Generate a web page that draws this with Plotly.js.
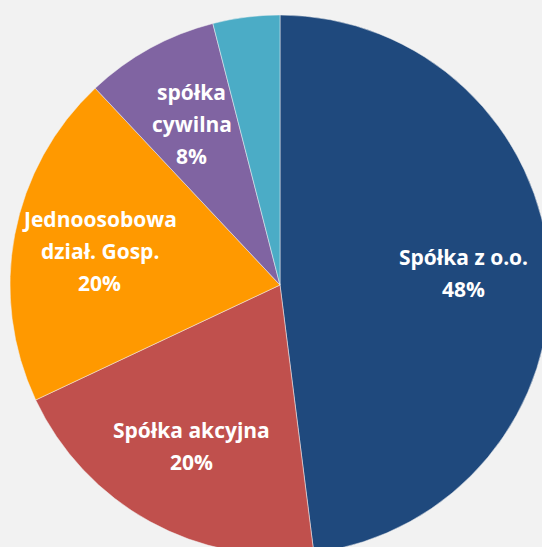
<!DOCTYPE html>
<html>
<head>
<meta charset="utf-8">
<script src="https://cdn.plot.ly/plotly-3.0.1.min.js"></script>
<style>
  html, body { margin: 0; padding: 0; overflow: hidden; background: #f2f2f2; width: 542px; height: 547px; }
  #chart { position: absolute; left: 10px; top: 15px; }
</style>
</head>
<body>
<div id="chart"></div>
<script>
var labels = ['Spółka z o.o.', 'Spółka akcyjna', 'Jednoosobowa dział. Gosp.', 'spółka cywilna', 'inne'];
var shares = [48, 20, 20, 8, 4];
var colors = ['#1f497d', '#c0504d', '#ff9900', '#8064a2', '#4bacc6'];
// label lines drawn on each slice (empty = no label)
var labelLines = [
  ['Spółka z o.o.', '48%'],
  ['Spółka akcyjna', '20%'],
  ['Jednoosobowa', 'dział. Gosp.', '20%'],
  ['spółka', 'cywilna', '8%'],
  []
];

var trace = {
  type: 'pie',
  labels: labels,
  values: shares,
  textinfo: 'none',
  sort: false,
  direction: 'clockwise',
  rotation: 0,
  marker: { colors: colors, line: { color: '#f2f2f2', width: 0.5 } },
  hoverinfo: 'none',
  showlegend: false
};

// place labels at the middle angle of each slice
var total = shares.reduce(function (a, b) { return a + b; }, 0);
var annotations = [];
var cum = 0;
var lineGap = 32;
for (var i = 0; i < shares.length; i++) {
  var mid = (cum + shares[i] / 2) / total * 2 * Math.PI;
  cum += shares[i];
  var r = 0.68 * 0.5;
  var x = 0.5 + r * Math.sin(mid);
  var y = 0.5 + r * Math.cos(mid);
  var n = labelLines[i].length;
  for (var j = 0; j < n; j++) {
    annotations.push({
      xref: 'paper', yref: 'paper', x: x, y: y,
      xanchor: 'center', yanchor: 'middle',
      yshift: -(j - (n - 1) / 2) * lineGap,
      text: '<b>' + labelLines[i][j] + '</b>',
      showarrow: false,
      font: { family: '"Open Sans", sans-serif', size: 21, color: '#ffffff' }
    });
  }
}

var layout = {
  width: 540,
  height: 540,
  margin: { l: 0, r: 0, t: 0, b: 0 },
  paper_bgcolor: '#f2f2f2',
  showlegend: false,
  annotations: annotations
};

Plotly.newPlot('chart', [trace], layout, { displayModeBar: false, staticPlot: true });
</script>
</body>
</html>
